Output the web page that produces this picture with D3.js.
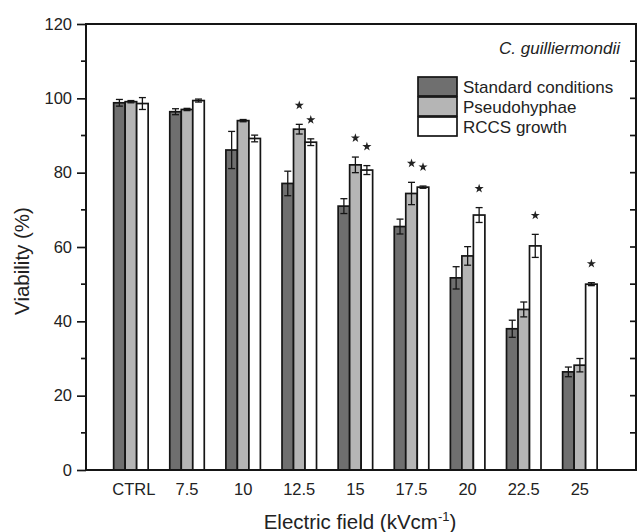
<!DOCTYPE html>
<html>
<head>
<meta charset="utf-8">
<script src="https://cdn.jsdelivr.net/npm/d3@7"></script>
<style>
body { margin: 0; background: #fff; }
svg { font-family: "Liberation Sans", Arial, sans-serif; }
</style>
</head>
<body>
<svg id="chart" width="637" height="532"></svg>
<script>
var categories = ["CTRL", "7.5", "10", "12.5", "15", "17.5", "20", "22.5", "25"];

var standard    = [98.8, 96.4, 86.1, 77.1, 71.0, 65.5, 51.7, 38.0, 26.4];
var standardErr = [0.9, 0.8, 5.0, 3.3, 2.0, 2.0, 3.0, 2.3, 1.3];
var pseudo      = [99.1, 97.0, 94.0, 91.7, 82.1, 74.4, 57.6, 43.2, 28.2];
var pseudoErr   = [0.3, 0.3, 0.3, 1.3, 2.1, 3.0, 2.5, 2.0, 1.8];
var rccs        = [98.6, 99.4, 89.2, 88.2, 80.7, 76.1, 68.6, 60.3, 50.0];
var rccsErr     = [1.6, 0.4, 0.9, 0.9, 1.2, 0.3, 2.0, 3.1, 0.4];

// which groups carry a significance star
var pseudoStars = ["12.5", "15", "17.5"];
var rccsStars   = ["12.5", "15", "17.5", "20", "22.5", "25"];

var seriesNames = ["Standard conditions", "Pseudohyphae", "RCCS growth"];
var yTicks = [0, 20, 40, 60, 80, 100, 120];

var series = [
    {name: seriesNames[0], values: standard, err: standardErr, stars: [], fill: "#6f6f6f"},
    {name: seriesNames[1], values: pseudo, err: pseudoErr, stars: pseudoStars, fill: "#b5b5b5"},
    {name: seriesNames[2], values: rccs, err: rccsErr, stars: rccsStars, fill: "#ffffff"}
];

var frame = {left: 86, right: 636, top: 24, bottom: 470};
var barWidth = 11.5;
var ink = "#151515";

var svg = d3.select("#chart");

var x = d3.scaleLinear()
    .domain([-0.8, categories.length])
    .range([frame.left, frame.right]);

var y = d3.scaleLinear()
    .domain([0, 120])
    .range([frame.bottom, frame.top]);

var star = d3.symbol().type(d3.symbolStar).size(26);

// bars
series.forEach(function(s, j)
{
    var g = svg.append("g");
    var offset = (j - 1.5) * barWidth;

    g.selectAll("rect")
    .data(s.values)
    .enter().append("rect")
    .attr("x", function(d, i) { return x(i) + offset; })
    .attr("width", barWidth)
    .attr("y", function(d) { return y(d); })
    .attr("height", function(d) { return y(0) - y(d); })
    .attr("fill", s.fill)
    .attr("stroke", ink)
    .attr("stroke-width", 1.7);

    var cx = function(i) { return x(i) + offset + barWidth / 2; };

    var err = g.selectAll(".err")
    .data(s.values)
    .enter().append("g")
    .attr("class", "err")
    .attr("stroke", ink)
    .attr("stroke-width", 1.3);

    err.append("line")
    .attr("x1", function(d, i) { return cx(i); })
    .attr("x2", function(d, i) { return cx(i); })
    .attr("y1", function(d, i) { return y(d - s.err[i]); })
    .attr("y2", function(d, i) { return y(d + s.err[i]); });

    [-1, 1].forEach(function(sign)
    {
        err.append("line")
        .attr("x1", function(d, i) { return cx(i) - 3.5; })
        .attr("x2", function(d, i) { return cx(i) + 3.5; })
        .attr("y1", function(d, i) { return y(d + sign * s.err[i]); })
        .attr("y2", function(d, i) { return y(d + sign * s.err[i]); });
    });

    g.selectAll(".star")
    .data(s.stars)
    .enter().append("path")
    .attr("class", "star")
    .attr("d", star)
    .attr("fill", "#222")
    .attr("transform", function(d)
    {
        var i = categories.indexOf(d);
        return "translate(" + cx(i) + "," + (y(s.values[i] + s.err[i]) - 19) + ")";
    });
});

// frame
svg.append("rect")
.attr("x", frame.left)
.attr("y", frame.top)
.attr("width", frame.right - frame.left)
.attr("height", frame.bottom - frame.top)
.attr("fill", "none")
.attr("stroke", ink)
.attr("stroke-width", 2);

// left axis
var yAxis = d3.axisLeft(y)
.tickValues(yTicks)
.tickSize(9)
.tickPadding(5);

var left = svg.append("g")
.attr("transform", "translate(" + frame.left + ",0)")
.call(yAxis);

left.select(".domain").remove();
left.selectAll("line").attr("stroke", ink).attr("stroke-width", 1.7);
left.selectAll("text")
.attr("font-size", 16.5)
.attr("font-family", "Liberation Sans, Arial, sans-serif")
.attr("fill", "#222");

var minor = d3.range(10, 120, 20);

svg.append("g").selectAll("line")
.data(minor)
.enter().append("line")
.attr("x1", frame.left - 5)
.attr("x2", frame.left)
.attr("y1", function(d) { return y(d); })
.attr("y2", function(d) { return y(d); })
.attr("stroke", ink)
.attr("stroke-width", 1.7);

// right axis, inward ticks every 10
svg.append("g").selectAll("line")
.data(d3.range(10, 120, 10))
.enter().append("line")
.attr("x1", frame.right - 6)
.attr("x2", frame.right)
.attr("y1", function(d) { return y(d); })
.attr("y2", function(d) { return y(d); })
.attr("stroke", ink)
.attr("stroke-width", 1.7);

// category labels
svg.append("g").selectAll("text")
.data(categories)
.enter().append("text")
.attr("text-anchor", "middle")
.attr("x", function(d, i) { return x(i) + (i === 0 ? 3 : 0); })
.attr("y", 495)
.attr("font-size", 16.5)
.attr("fill", "#222")
.text(function(d) { return d; });

// axis titles
svg.append("text")
.attr("transform", "translate(29,261) rotate(-90)")
.attr("text-anchor", "middle")
.attr("font-size", 20.5)
.attr("fill", "#222")
.text("Viability (%)");

var xt = svg.append("text")
.attr("x", 360)
.attr("y", 529)
.attr("text-anchor", "middle")
.attr("font-size", 20.5)
.attr("fill", "#222");
xt.append("tspan").text("Electric field (kVcm");
xt.append("tspan").attr("font-size", 13).attr("dy", -8).text("-1");
xt.append("tspan").attr("dy", 8).text(")");

// species label
svg.append("text")
.attr("x", 620)
.attr("y", 54)
.attr("text-anchor", "end")
.attr("font-size", 17)
.attr("font-style", "italic")
.attr("fill", "#222")
.text("C. guilliermondii");

// legend
var legend = svg.append("g")
.attr("transform", "translate(418,77)");

var items = legend.selectAll("g")
.data(series)
.enter().append("g")
.attr("transform", function(d, i) { return "translate(0," + (i * 20) + ")"; });

items.append("rect")
.attr("width", 39)
.attr("height", 19)
.attr("fill", function(d) { return d.fill; })
.attr("stroke", ink)
.attr("stroke-width", 1.7);

items.append("text")
.attr("x", 45)
.attr("y", 15.5)
.attr("font-size", 17)
.attr("fill", "#222")
.text(function(d) { return d.name; });
</script>
</body>
</html>
